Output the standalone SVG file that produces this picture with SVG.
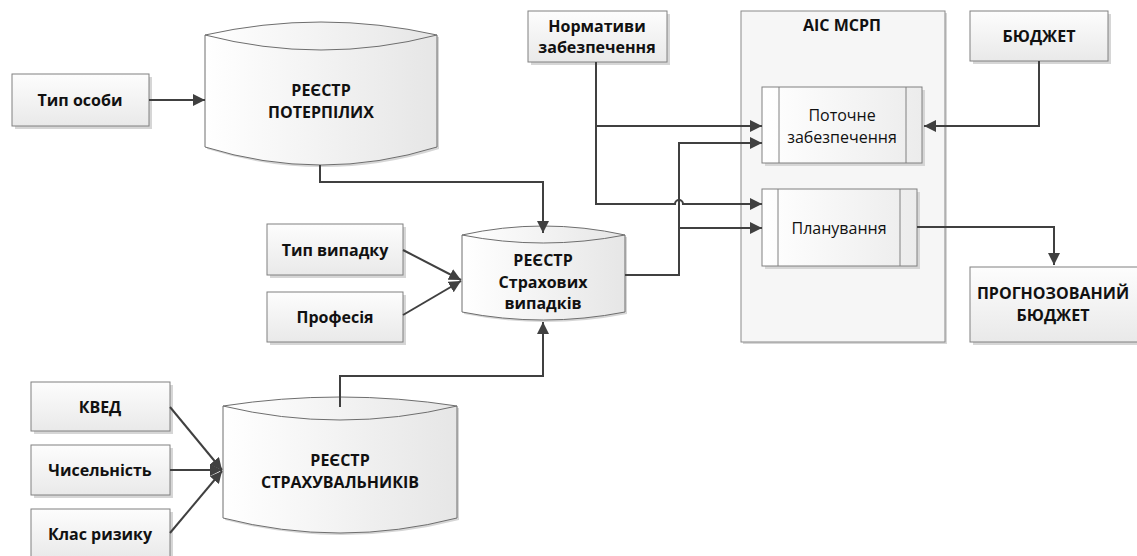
<svg xmlns="http://www.w3.org/2000/svg" width="1137" height="556" viewBox="0 0 1137 556">
<defs>
<linearGradient id="gBox" x1="0" y1="0" x2="0" y2="1">
<stop offset="0" stop-color="#fdfdfd"/><stop offset="1" stop-color="#e9e9e9"/>
</linearGradient>
<linearGradient id="gCyl" x1="0" y1="0" x2="1" y2="0">
<stop offset="0" stop-color="#ffffff"/><stop offset="1" stop-color="#e6e6e6"/>
</linearGradient>
<linearGradient id="gProc" x1="0" y1="0" x2="1" y2="0">
<stop offset="0" stop-color="#ffffff"/><stop offset="1" stop-color="#ececec"/>
</linearGradient>
<marker id="arr" markerUnits="userSpaceOnUse" markerWidth="14" markerHeight="12" refX="12" refY="6" orient="auto">
<path d="M0,0 L12,6 L0,12 Z" fill="#404040"/>
</marker>
</defs>
<style>
.box{fill:url(#gBox);stroke:#808080;stroke-width:1}
.sh{fill:#d6d6d6}
.cyl{fill:url(#gCyl);stroke:#6e6e6e;stroke-width:1}
.arc{fill:none;stroke:#6e6e6e;stroke-width:1}
.proc{fill:url(#gProc);stroke:#808080;stroke-width:1}
.pl{stroke:#808080;stroke-width:1}
.c{fill:none;stroke:#404040;stroke-width:2}
.ca{fill:none;stroke:#404040;stroke-width:2;marker-end:url(#arr)}
text{font-family:"Open Sans","Noto Sans","DejaVu Sans",sans-serif;font-size:16px;fill:#111;text-anchor:middle}
.b{font-weight:bold}
</style>

<g id="container-ais">
<rect x="743" y="13" width="204" height="331" class="sh"/>
<rect x="741" y="11" width="204" height="331" fill="#f6f6f6" stroke="#8a8a8a"/>
<text x="842" y="31" class="b">АІС МСРП</text>
</g>

<g id="n-typ-osoby">
<rect x="15" y="77" width="137" height="52" class="sh"/>
<rect x="12" y="74" width="137" height="52" class="box"/>
<text x="80" y="106" class="b">Тип особи</text>
</g>

<g id="n-reestr-poterpilykh">
<path d="M207,37 Q323,11 439,37 L439,149 Q323,185 207,149 Z" class="sh"/>
<path d="M205,35 Q321,9 437,35 L437,147 Q321,183 205,147 Z" class="cyl"/>
<path d="M205,35 Q321,65 437,35" class="arc"/>
<text x="321" y="96" class="b">РЕЄСТР</text>
<text x="321" y="118" class="b">ПОТЕРПІЛИХ</text>
</g>

<g id="n-normatyvy">
<rect x="531" y="14" width="139" height="51" class="sh"/>
<rect x="528" y="11" width="139" height="51" class="box"/>
<text x="597" y="32" class="b">Нормативи</text>
<text x="597" y="53" class="b">забезпечення</text>
</g>

<g id="n-biudzhet">
<rect x="973" y="14" width="138" height="50" class="sh"/>
<rect x="970" y="11" width="138" height="50" class="box"/>
<text x="1039" y="42" class="b">БЮДЖЕТ</text>
</g>

<g id="n-potochne">
<rect x="765" y="90" width="160" height="76" class="sh"/>
<rect x="762" y="87" width="160" height="76" class="proc"/>
<line x1="779" y1="87" x2="779" y2="163" class="pl"/>
<line x1="906" y1="87" x2="906" y2="163" class="pl"/>
<text x="842" y="121">Поточне</text>
<text x="842" y="143">забезпечення</text>
</g>

<g id="n-planuvannia">
<rect x="765" y="192" width="155" height="77" class="sh"/>
<rect x="762" y="189" width="155" height="77" class="proc"/>
<line x1="778" y1="189" x2="778" y2="266" class="pl"/>
<line x1="900" y1="189" x2="900" y2="266" class="pl"/>
<text x="839" y="234">Планування</text>
</g>

<g id="n-prognoz">
<rect x="973" y="270" width="170" height="75" class="sh"/>
<rect x="970" y="267" width="170" height="75" class="box"/>
<text x="1053" y="299" class="b">ПРОГНОЗОВАНИЙ</text>
<text x="1053" y="321" class="b">БЮДЖЕТ</text>
</g>

<g id="n-typ-vypadku">
<rect x="270" y="227" width="136" height="51" class="sh"/>
<rect x="267" y="224" width="136" height="51" class="box"/>
<text x="335" y="256" class="b">Тип випадку</text>
</g>

<g id="n-profesiia">
<rect x="270" y="295" width="136" height="50" class="sh"/>
<rect x="267" y="292" width="136" height="50" class="box"/>
<text x="335" y="323" class="b">Професія</text>
</g>

<g id="n-reestr-vypadkiv">
<path d="M464,237 Q545,219 627,237 L627,314 Q545,330 464,314 Z" class="sh"/>
<path d="M462,235 Q543,217 625,235 L625,312 Q543,328 462,312 Z" class="cyl"/>
<path d="M462,235 Q543,251 625,235" class="arc"/>
<text x="543" y="266" class="b">РЕЄСТР</text>
<text x="543" y="288" class="b">Страхових</text>
<text x="543" y="309" class="b">випадків</text>
</g>

<g id="n-kved">
<rect x="34" y="385" width="139" height="49" class="sh"/>
<rect x="31" y="382" width="139" height="49" class="box"/>
<text x="100" y="413" class="b">КВЕД</text>
</g>

<g id="n-chyselnist">
<rect x="34" y="448" width="139" height="50" class="sh"/>
<rect x="31" y="445" width="139" height="50" class="box"/>
<text x="100" y="476" class="b">Чисельність</text>
</g>

<g id="n-klas-ryzyku">
<rect x="34" y="512" width="139" height="50" class="sh"/>
<rect x="31" y="509" width="139" height="50" class="box"/>
<text x="100" y="540" class="b">Клас ризику</text>
</g>

<g id="n-reestr-strakhuvalnykiv">
<path d="M225,408 Q342,390 459,408 L459,520 Q342,550 225,520 Z" class="sh"/>
<path d="M223,406 Q340,388 457,406 L457,518 Q340,548 223,518 Z" class="cyl"/>
<path d="M223,406 Q340,434 457,406" class="arc"/>
<text x="340" y="466" class="b">РЕЄСТР</text>
<text x="340" y="488" class="b">СТРАХУВАЛЬНИКІВ</text>
</g>

<g id="connectors">
<path d="M149,100 L205,100" class="ca"/>
<path d="M320,165 L320,182 L543,182 L543,233" class="ca"/>
<path d="M403,250 L461,280" class="ca"/>
<path d="M403,315 L461,281" class="ca"/>
<path d="M340,407 L340,376 L543,376 L543,322" class="ca"/>
<path d="M170,407 L222,470" class="ca"/>
<path d="M170,470 L222,470" class="ca"/>
<path d="M170,533 L222,471" class="ca"/>
<path d="M596,62 L596,126 L762,126" class="ca"/>
<path d="M596,126 L596,204 L675,204 A4,4 0 0 1 683,204 L762,204" class="ca"/>
<path d="M625,275 L679,275 L679,143 L762,143" class="ca"/>
<path d="M679,228 L762,228" class="ca"/>
<path d="M1039,61 L1039,126 L924,126" class="ca"/>
<path d="M917,227 L1054,227 L1054,265" class="ca"/>
</g>
</svg>
